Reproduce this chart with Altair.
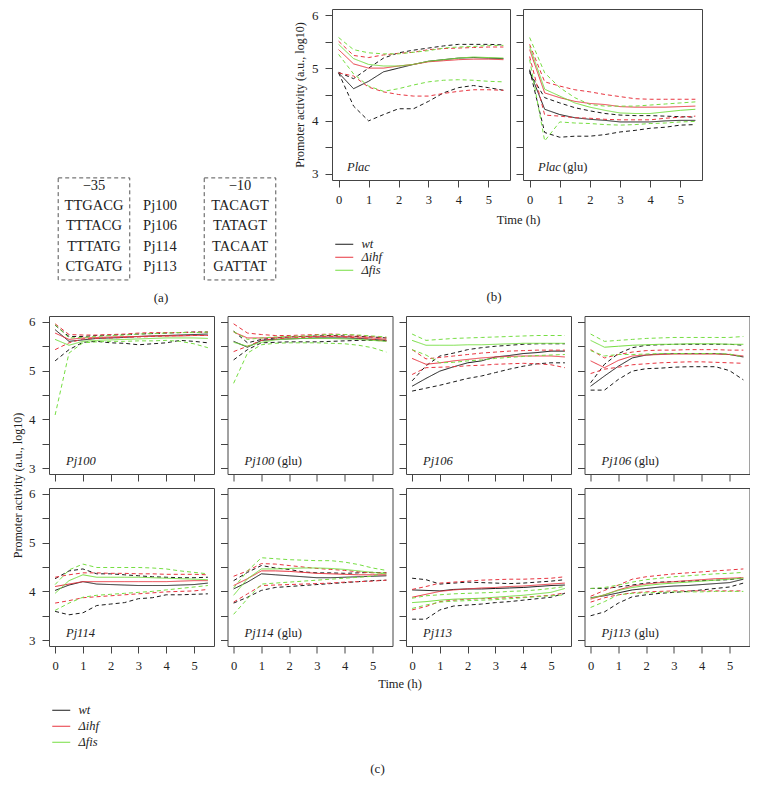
import altair as alt
import pandas as pd

FONT = "Liberation Serif"
STRAINS = ["wt", "Δihf", "Δfis"]
COLORS = ["#1a1a1a", "#e8343f", "#76de42"]
KINDS = ["mean", "upper", "lower"]
TIME = [0, 0.5, 1, 1.5, 2, 2.5, 3, 3.5, 4, 4.5, 5, 5.5]

# ---------------- panel (a) ----------------
HEAD_35 = "−35"
HEAD_10 = "−10"
MINUS35 = ["TTGACG", "TTTACG", "TTTATG", "CTGATG"]
PROMOTERS = ["Pj100", "Pj106", "Pj114", "Pj113"]
MINUS10 = ["TACAGT", "TATAGT", "TACAAT", "GATTAT"]

# ---------------- panel (b) ----------------
PLAC_WT = dict(mean=[4.91, 4.61, 4.75, 4.93, 5.00, 5.07, 5.13, 5.16, 5.19, 5.20, 5.19, 5.18],
               upper=[4.92, 4.80, 5.00, 5.19, 5.29, 5.34, 5.38, 5.42, 5.45, 5.45, 5.45, 5.44],
               lower=[4.91, 4.28, 4.00, 4.12, 4.23, 4.23, 4.37, 4.53, 4.63, 4.67, 4.63, 4.58])
PLAC_IHF = dict(mean=[5.35, 5.08, 5.00, 5.00, 5.04, 5.07, 5.12, 5.14, 5.16, 5.17, 5.17, 5.16],
                upper=[5.51, 5.24, 5.20, 5.25, 5.28, 5.30, 5.35, 5.37, 5.38, 5.39, 5.40, 5.40],
                lower=[4.91, 4.85, 4.64, 4.55, 4.50, 4.47, 4.47, 4.52, 4.56, 4.59, 4.59, 4.58])
PLAC_FIS = dict(mean=[5.45, 5.18, 5.07, 5.04, 5.04, 5.07, 5.13, 5.16, 5.19, 5.21, 5.20, 5.19],
                upper=[5.58, 5.35, 5.29, 5.27, 5.27, 5.30, 5.33, 5.38, 5.40, 5.41, 5.43, 5.43],
                lower=[5.26, 4.89, 4.66, 4.56, 4.61, 4.68, 4.74, 4.77, 4.78, 4.77, 4.75, 4.74])

PLACG_WT = dict(mean=[4.94, 4.22, 4.12, 4.06, 4.03, 4.01, 3.98, 3.98, 3.98, 4.00, 4.01, 4.01],
                upper=[4.91, 4.44, 4.34, 4.25, 4.19, 4.14, 4.11, 4.10, 4.10, 4.09, 4.08, 4.07],
                lower=[4.97, 3.78, 3.69, 3.71, 3.71, 3.74, 3.79, 3.82, 3.86, 3.88, 3.92, 3.93])
PLACG_IHF = dict(mean=[5.35, 4.53, 4.44, 4.37, 4.33, 4.31, 4.27, 4.26, 4.26, 4.26, 4.27, 4.28],
                 upper=[5.45, 4.74, 4.66, 4.59, 4.55, 4.50, 4.46, 4.42, 4.41, 4.41, 4.41, 4.41],
                 lower=[5.22, 4.11, 4.09, 4.06, 4.05, 4.03, 4.02, 4.02, 4.02, 4.05, 4.07, 4.09])
PLACG_FIS = dict(mean=[5.41, 4.60, 4.47, 4.34, 4.26, 4.20, 4.15, 4.14, 4.14, 4.17, 4.20, 4.22],
                 upper=[5.58, 4.91, 4.63, 4.44, 4.31, 4.28, 4.28, 4.28, 4.30, 4.32, 4.34, 4.36],
                 lower=[5.16, 3.62, 3.98, 3.96, 3.95, 3.93, 3.92, 3.93, 3.95, 3.96, 3.98, 3.99])

# ---------------- panel (c) ----------------
PJ100_WT = dict(mean=[5.84, 5.60, 5.63, 5.66, 5.67, 5.68, 5.70, 5.71, 5.72, 5.73, 5.74, 5.75],
                upper=[5.93, 5.70, 5.70, 5.72, 5.73, 5.74, 5.75, 5.76, 5.77, 5.78, 5.79, 5.79],
                lower=[5.20, 5.43, 5.58, 5.60, 5.57, 5.56, 5.53, 5.55, 5.57, 5.62, 5.60, 5.57])
PJ100_IHF = dict(mean=[5.77, 5.64, 5.67, 5.68, 5.69, 5.70, 5.70, 5.71, 5.71, 5.71, 5.72, 5.72],
                 upper=[5.96, 5.74, 5.73, 5.73, 5.74, 5.75, 5.77, 5.78, 5.78, 5.78, 5.79, 5.79],
                 lower=[5.43, 5.57, 5.65, 5.66, 5.67, 5.68, 5.69, 5.70, 5.71, 5.72, 5.72, 5.72])
PJ100_FIS = dict(mean=[5.64, 5.52, 5.60, 5.62, 5.63, 5.64, 5.65, 5.66, 5.67, 5.67, 5.67, 5.66],
                 upper=[5.94, 5.67, 5.68, 5.70, 5.72, 5.73, 5.75, 5.76, 5.77, 5.78, 5.78, 5.79],
                 lower=[4.09, 5.36, 5.57, 5.59, 5.60, 5.60, 5.61, 5.61, 5.62, 5.60, 5.55, 5.47])

PJ100G_WT = dict(mean=[5.60, 5.48, 5.62, 5.64, 5.65, 5.66, 5.67, 5.67, 5.67, 5.66, 5.64, 5.62],
                 upper=[5.81, 5.57, 5.64, 5.67, 5.69, 5.70, 5.71, 5.72, 5.71, 5.70, 5.69, 5.67],
                 lower=[5.22, 5.43, 5.57, 5.58, 5.59, 5.59, 5.59, 5.60, 5.61, 5.62, 5.62, 5.61])
PJ100G_IHF = dict(mean=[5.79, 5.67, 5.67, 5.68, 5.69, 5.70, 5.70, 5.71, 5.70, 5.69, 5.67, 5.64],
                  upper=[5.96, 5.77, 5.74, 5.72, 5.72, 5.73, 5.74, 5.75, 5.74, 5.72, 5.70, 5.67],
                  lower=[5.39, 5.50, 5.62, 5.65, 5.67, 5.68, 5.69, 5.70, 5.69, 5.67, 5.64, 5.61])
PJ100G_FIS = dict(mean=[5.58, 5.50, 5.58, 5.63, 5.65, 5.66, 5.66, 5.66, 5.65, 5.64, 5.62, 5.60],
                  upper=[5.80, 5.64, 5.67, 5.69, 5.70, 5.71, 5.73, 5.74, 5.74, 5.73, 5.71, 5.69],
                  lower=[4.74, 5.36, 5.53, 5.56, 5.57, 5.57, 5.57, 5.56, 5.55, 5.52, 5.47, 5.38])

PJ106_WT = dict(mean=[4.68, 4.84, 4.99, 5.08, 5.16, 5.20, 5.28, 5.31, 5.35, 5.37, 5.40, 5.40],
                upper=[4.79, 5.10, 5.30, 5.36, 5.43, 5.47, 5.50, 5.52, 5.54, 5.55, 5.55, 5.55],
                lower=[4.58, 4.64, 4.70, 4.77, 4.84, 4.89, 4.96, 5.03, 5.09, 5.14, 5.16, 5.16])
PJ106_IHF = dict(mean=[5.25, 5.13, 5.16, 5.20, 5.23, 5.26, 5.28, 5.29, 5.30, 5.30, 5.30, 5.28],
                 upper=[5.43, 5.24, 5.27, 5.30, 5.33, 5.36, 5.38, 5.40, 5.41, 5.42, 5.42, 5.42],
                 lower=[4.92, 5.06, 5.07, 5.08, 5.10, 5.11, 5.13, 5.14, 5.15, 5.14, 5.12, 5.06])
PJ106_FIS = dict(mean=[5.62, 5.52, 5.52, 5.52, 5.53, 5.53, 5.54, 5.55, 5.56, 5.56, 5.56, 5.56],
                 upper=[5.75, 5.62, 5.64, 5.66, 5.67, 5.68, 5.69, 5.70, 5.71, 5.72, 5.72, 5.72],
                 lower=[5.43, 5.32, 5.16, 5.17, 5.20, 5.22, 5.25, 5.27, 5.29, 5.31, 5.32, 5.33])

PJ106G_WT = dict(mean=[4.68, 4.89, 5.09, 5.26, 5.32, 5.34, 5.35, 5.35, 5.35, 5.35, 5.33, 5.28],
                 upper=[4.75, 5.13, 5.35, 5.47, 5.52, 5.53, 5.54, 5.54, 5.54, 5.54, 5.54, 5.52],
                 lower=[4.60, 4.60, 4.82, 4.99, 5.04, 5.05, 5.07, 5.08, 5.08, 5.08, 5.00, 4.81])
PJ106G_IHF = dict(mean=[5.20, 5.06, 5.21, 5.30, 5.32, 5.33, 5.34, 5.34, 5.34, 5.34, 5.33, 5.30],
                  upper=[5.43, 5.26, 5.33, 5.38, 5.41, 5.42, 5.42, 5.43, 5.43, 5.43, 5.42, 5.42],
                  lower=[4.94, 5.03, 5.07, 5.12, 5.14, 5.16, 5.17, 5.18, 5.18, 5.17, 5.16, 5.15])
PJ106G_FIS = dict(mean=[5.62, 5.48, 5.50, 5.52, 5.53, 5.54, 5.54, 5.55, 5.55, 5.55, 5.54, 5.54],
                  upper=[5.75, 5.60, 5.62, 5.64, 5.66, 5.67, 5.68, 5.68, 5.68, 5.68, 5.68, 5.70],
                  lower=[5.41, 5.30, 5.33, 5.33, 5.34, 5.35, 5.35, 5.35, 5.35, 5.35, 5.34, 5.28])

PJ114_WT = dict(mean=[4.02, 4.13, 4.20, 4.15, 4.14, 4.13, 4.12, 4.12, 4.12, 4.13, 4.14, 4.17],
                upper=[4.26, 4.42, 4.46, 4.36, 4.36, 4.34, 4.32, 4.30, 4.29, 4.28, 4.28, 4.29],
                lower=[3.59, 3.52, 3.56, 3.71, 3.74, 3.77, 3.85, 3.87, 3.93, 3.93, 3.94, 3.95])
PJ114_IHF = dict(mean=[4.10, 4.15, 4.20, 4.20, 4.20, 4.20, 4.20, 4.20, 4.20, 4.21, 4.22, 4.22],
                 upper=[4.29, 4.34, 4.38, 4.38, 4.37, 4.37, 4.36, 4.36, 4.35, 4.35, 4.35, 4.34],
                 lower=[3.76, 3.81, 3.87, 3.89, 3.91, 3.93, 3.95, 3.97, 3.99, 4.00, 4.01, 4.04])
PJ114_FIS = dict(mean=[3.96, 4.22, 4.34, 4.29, 4.29, 4.29, 4.29, 4.28, 4.27, 4.26, 4.25, 4.24],
                 upper=[4.14, 4.44, 4.56, 4.49, 4.49, 4.49, 4.49, 4.48, 4.46, 4.42, 4.39, 4.36],
                 lower=[3.61, 3.76, 3.88, 3.92, 3.94, 3.96, 3.98, 4.00, 4.03, 4.06, 4.09, 4.12])

PJ114G_WT = dict(mean=[4.05, 4.19, 4.36, 4.34, 4.32, 4.30, 4.28, 4.28, 4.29, 4.30, 4.31, 4.32],
                 upper=[4.22, 4.39, 4.53, 4.48, 4.45, 4.40, 4.38, 4.38, 4.37, 4.38, 4.39, 4.38],
                 lower=[3.76, 3.88, 4.02, 4.08, 4.10, 4.12, 4.14, 4.16, 4.18, 4.20, 4.22, 4.23])
PJ114G_IHF = dict(mean=[4.12, 4.26, 4.42, 4.42, 4.41, 4.39, 4.37, 4.36, 4.35, 4.34, 4.34, 4.34],
                  upper=[4.31, 4.42, 4.57, 4.56, 4.53, 4.50, 4.47, 4.45, 4.43, 4.40, 4.38, 4.38],
                  lower=[3.78, 3.95, 4.12, 4.13, 4.14, 4.15, 4.16, 4.17, 4.19, 4.20, 4.21, 4.23])
PJ114G_FIS = dict(mean=[3.92, 4.26, 4.46, 4.46, 4.47, 4.48, 4.48, 4.47, 4.45, 4.42, 4.39, 4.36],
                  upper=[4.07, 4.42, 4.69, 4.67, 4.65, 4.64, 4.63, 4.63, 4.60, 4.55, 4.48, 4.43],
                  lower=[3.53, 3.85, 4.15, 4.17, 4.19, 4.21, 4.23, 4.25, 4.27, 4.29, 4.31, 4.40])

PJ113_WT = dict(mean=[4.03, 4.02, 4.01, 4.04, 4.05, 4.05, 4.06, 4.07, 4.08, 4.10, 4.12, 4.13],
                upper=[4.27, 4.24, 4.15, 4.17, 4.19, 4.18, 4.17, 4.16, 4.17, 4.19, 4.21, 4.24],
                lower=[3.43, 3.43, 3.62, 3.70, 3.72, 3.74, 3.77, 3.79, 3.82, 3.85, 3.88, 3.96])
PJ113_IHF = dict(mean=[3.88, 3.94, 4.00, 4.03, 4.05, 4.07, 4.08, 4.10, 4.11, 4.13, 4.15, 4.17],
                 upper=[4.04, 4.10, 4.17, 4.19, 4.21, 4.23, 4.24, 4.25, 4.25, 4.26, 4.27, 4.30],
                 lower=[3.62, 3.69, 3.79, 3.82, 3.84, 3.85, 3.86, 3.87, 3.88, 3.90, 3.92, 3.97])
PJ113_FIS = dict(mean=[3.77, 3.79, 3.82, 3.84, 3.85, 3.86, 3.88, 3.90, 3.92, 3.95, 3.98, 4.06],
                 upper=[3.86, 3.91, 3.93, 3.95, 3.96, 3.97, 3.98, 4.00, 4.01, 4.03, 4.06, 4.10],
                 lower=[3.65, 3.72, 3.78, 3.80, 3.81, 3.82, 3.83, 3.85, 3.87, 3.89, 3.91, 3.93])

PJ113G_WT = dict(mean=[3.87, 3.91, 3.97, 4.03, 4.06, 4.09, 4.11, 4.12, 4.14, 4.16, 4.18, 4.25],
                 upper=[4.06, 4.06, 4.09, 4.13, 4.17, 4.19, 4.20, 4.21, 4.22, 4.23, 4.24, 4.28],
                 lower=[3.50, 3.58, 3.76, 3.89, 3.93, 3.96, 3.98, 4.00, 4.03, 4.06, 4.09, 4.17])
PJ113G_IHF = dict(mean=[3.84, 3.93, 4.03, 4.11, 4.15, 4.18, 4.20, 4.22, 4.24, 4.26, 4.27, 4.28],
                  upper=[3.90, 4.02, 4.13, 4.25, 4.30, 4.33, 4.36, 4.38, 4.40, 4.42, 4.44, 4.46],
                  lower=[3.78, 3.87, 3.93, 3.97, 3.99, 4.00, 4.01, 4.01, 4.01, 4.01, 4.01, 4.01])
PJ113G_FIS = dict(mean=[3.86, 3.93, 4.02, 4.08, 4.12, 4.15, 4.17, 4.19, 4.21, 4.23, 4.25, 4.27],
                  upper=[4.06, 4.08, 4.13, 4.19, 4.24, 4.27, 4.30, 4.32, 4.34, 4.36, 4.37, 4.39],
                  lower=[3.67, 3.79, 3.93, 3.96, 3.97, 3.98, 3.99, 3.99, 3.99, 4.00, 4.00, 4.00])

Y_TICKS = [3, 3.5, 4, 4.5, 5, 5.5, 6]
X_TICKS = [0, 1, 2, 3, 4, 5]
Y_TITLE = "Promoter activity (a.u., log10)"
X_TITLE = "Time (h)"


def long_df(triples):
    rows = []
    for strain, d in zip(STRAINS, triples):
        for kind in KINDS:
            for t, v in zip(TIME, d[kind]):
                rows.append(dict(time=t, value=v, strain=strain, kind=kind,
                                 series=strain + "-" + kind))
    return pd.DataFrame(rows)


def text_layer(txt, x, y, italic=False, size=12.5, align="left"):
    return alt.Chart(pd.DataFrame({"t": [txt]})).mark_text(
        font=FONT, fontSize=size, fontStyle="italic" if italic else "normal",
        color="#222", align=align, baseline="middle"
    ).encode(text="t:N", x=alt.value(x), y=alt.value(y))


def make_panel(triples, name, glu, width, height, ylabels, xlabels,
               ytitle=None, xtitle=None, legend=None, tag=None, lab_x=17):
    yk = dict(values=Y_TICKS, tickSize=7, tickColor="#444", domain=False, grid=False,
              labels=ylabels, labelExpr="datum.value % 1 == 0 ? '' + datum.value : ''",
              labelFont=FONT, labelFontSize=13, labelColor="#222", labelPadding=7)
    if ytitle:
        yk.update(title=Y_TITLE, titleX=ytitle[0], titleY=ytitle[1], titleFont=FONT,
                  titleFontSize=12, titleFontWeight="normal", titleBaseline="middle",
                  titleAlign="center", titleColor="#222", titleAngle=270)
    else:
        yk["title"] = None
    xk = dict(values=X_TICKS, tickSize=7, tickColor="#444", domain=False, grid=False,
              labels=xlabels, labelFont=FONT, labelFontSize=12.5, labelColor="#222",
              labelPadding=12, labelBaseline="middle", labelFlush=False)
    if xtitle:
        xk.update(title=X_TITLE, titleX=xtitle[0], titleY=xtitle[1], titleFont=FONT,
                  titleFontSize=12.5, titleFontWeight="normal", titleBaseline="middle",
                  titleAlign="center", titleColor="#222")
    else:
        xk["title"] = None

    color_kw = dict(scale=alt.Scale(domain=STRAINS, range=COLORS))
    color_kw["legend"] = legend if legend is not None else None

    lines = alt.Chart(long_df(triples)).mark_line(strokeWidth=1).encode(
        x=alt.X("time:Q", scale=alt.Scale(domain=[-0.22, 5.72], nice=False, zero=False),
                axis=alt.Axis(**xk)),
        y=alt.Y("value:Q", scale=alt.Scale(domain=[2.88, 6.12], nice=False, zero=False),
                axis=alt.Axis(**yk)),
        color=alt.Color("strain:N", **color_kw),
        strokeDash=alt.StrokeDash("kind:N", scale=alt.Scale(domain=KINDS,
                                  range=[[1, 0], [4, 3], [4, 3]]), legend=None),
        detail="series:N",
    )
    layers = [lines, text_layer(name, lab_x, height - 13, italic=True)]
    if glu:
        layers.append(text_layer("(glu)", lab_x + (25 if name == "Plac" else 33), height - 13))
    if tag:
        layers.append(text_layer(tag[0], tag[1], tag[2], size=13, align="center"))
    return alt.layer(*layers).properties(width=width, height=height)


def legend_at(x, y, row_pad):
    return alt.Legend(orient="none", legendX=x, legendY=y, title=None, direction="vertical",
                      symbolType="M-2,0H2", symbolSize=81, symbolStrokeWidth=1,
                      labelFont=FONT, labelFontStyle="italic", labelFontSize=12.5,
                      labelColor="#222", labelOffset=11, rowPadding=row_pad, padding=0)


INDEP = dict(color="independent", strokeDash="independent")

# ---------------- panel (a) chart ----------------
rows = [dict(col=0, row=0, label=HEAD_35), dict(col=2, row=0, label=HEAD_10)]
for i, (m35, m10) in enumerate(zip(MINUS35, MINUS10)):
    rows.append(dict(col=0, row=i + 1, label=m35))
    rows.append(dict(col=2, row=i + 1, label=m10))
prom_rows = [dict(col=1, row=i + 1, label=p) for i, p in enumerate(PROMOTERS)]
HALF = 0.49
box_rows = [dict(x=c - HALF, x2=c + HALF, y=-0.4, y2=len(PROMOTERS) + 0.64) for c in (0, 2)]

A_W, A_H = 270, 300
AX = alt.Scale(domain=[-0.616, 3.082], nice=False, zero=False)
AY = alt.Scale(domain=[-8.74, 6.074], nice=False, zero=False, reverse=True)

seq_text = alt.Chart(pd.DataFrame(rows)).mark_text(
    font=FONT, fontSize=14.5, color="#222", baseline="middle").encode(
    x=alt.X("col:Q", scale=AX, axis=None), y=alt.Y("row:Q", scale=AY, axis=None),
    text="label:N")
prom_text = alt.Chart(pd.DataFrame(prom_rows)).mark_text(
    font=FONT, fontSize=14.5, color="#222", baseline="middle", dx=-7).encode(
    x=alt.X("col:Q", scale=AX, axis=None), y=alt.Y("row:Q", scale=AY, axis=None),
    text="label:N")
boxes = alt.Chart(pd.DataFrame(box_rows)).mark_rect(
    fill="transparent", stroke="#555", strokeDash=[4, 3], strokeWidth=1).encode(
    x=alt.X("x:Q", scale=AX, axis=None), x2="x2:Q",
    y=alt.Y("y:Q", scale=AY, axis=None), y2="y2:Q")
panel_a = alt.layer(boxes, seq_text, prom_text,
                    text_layer("(a)", 112, 289, size=13, align="center")).properties(
    width=A_W, height=A_H, view=alt.ViewBackground(stroke="transparent", fill="white"))

# ---------------- panels (b) ----------------
HB = 171
plac = make_panel([PLAC_WT, PLAC_IHF, PLAC_FIS], "Plac", False, 178, HB, True, True,
                  ytitle=(-33, 85.5), xtitle=(186, 39), legend=legend_at(6, 229, 0),
                  tag=("(b)", 162, 288), lab_x=15)
placg = make_panel([PLACG_WT, PLACG_IHF, PLACG_FIS], "Plac", True, 179, HB, False, True,
                   lab_x=15)

top_row = alt.hconcat(panel_a, plac, placg, spacing=13, bounds="flush").resolve_scale(**INDEP)

# ---------------- panels (c) ----------------
HC = 158
WC = 165
c1 = make_panel([PJ100_WT, PJ100_IHF, PJ100_FIS], "Pj100", False, WC, HC, True, False,
                ytitle=(-32, 169))
c2 = make_panel([PJ100G_WT, PJ100G_IHF, PJ100G_FIS], "Pj100", True, WC, HC, False, False)
c3 = make_panel([PJ106_WT, PJ106_IHF, PJ106_FIS], "Pj106", False, WC, HC, False, False)
c4 = make_panel([PJ106G_WT, PJ106G_IHF, PJ106G_FIS], "Pj106", True, WC, HC, False, False)
c5 = make_panel([PJ114_WT, PJ114_IHF, PJ114_FIS], "Pj114", False, WC, HC, True, True,
                legend=legend_at(6, 216, 3))
c6 = make_panel([PJ114G_WT, PJ114G_IHF, PJ114G_FIS], "Pj114", True, WC, HC, False, True,
                xtitle=(172, 37), tag=("(c)", 150, 281))
c7 = make_panel([PJ113_WT, PJ113_IHF, PJ113_FIS], "Pj113", False, WC, HC, False, True)
c8 = make_panel([PJ113G_WT, PJ113G_IHF, PJ113G_FIS], "Pj113", True, WC, HC, False, True)

grid_c = alt.concat(c1, c2, c3, c4, c5, c6, c7, c8, columns=4,
                    spacing={"row": 14, "column": 13.5}, bounds="flush",
                    align="each").resolve_scale(**INDEP)

chart = alt.vconcat(top_row, grid_c, spacing=5).resolve_scale(**INDEP).configure_view(
    stroke="#444", strokeWidth=1
).properties(padding={"left": 2, "top": 0, "right": 0, "bottom": 0}, background="white")

chart.save("out.html", embed_options={"renderer": "svg", "actions": False})
